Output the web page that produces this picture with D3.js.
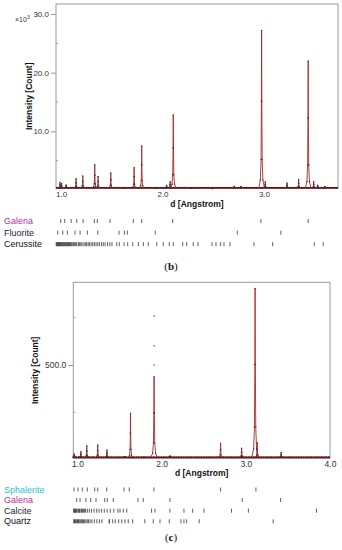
<!DOCTYPE html>
<html>
<head>
<meta charset="utf-8">
<script src="https://cdn.jsdelivr.net/npm/d3@7"></script>
<style>
  body { margin: 0; background: #fff; }
  svg { display: block; font-family: "Liberation Sans", Arial, sans-serif; }
</style>
</head>
<body>
<svg id="chart" width="342" height="550"></svg>
<script>
// ---- panel (b) data: peaks [d, intensity in 10^3 counts] ----
const peaksB = [
  [0.99, 1.3], [1.005, 1.1], [1.05, 0.85], [1.148, 1.9], [1.214, 2.4],
  [1.332, 4.3], [1.365, 2.3], [1.49, 2.9], [1.62, 0.3], [1.72, 3.8],
  [1.795, 7.5], [1.943, 0.3], [2.04, 0.8], [2.075, 1.4], [2.106, 12.8],
  [2.28, 0.3], [2.49, 0.2], [2.707, 0.6], [2.773, 0.6], [2.977, 27.2],
  [3.013, 1.4], [3.227, 1.2], [3.342, 1.8], [3.436, 22.0], [3.49, 1.4],
  [3.53, 0.8], [3.60, 0.6]
];
const baseB = 0.35;
const yTicksB = [10, 20, 30];
const yMinorB = [5, 15, 25];
const xTicksB = [1, 2, 3];

const phasesB = ["Galena", "Fluorite", "Cerussite"];
const galenaB = [0.997, 1.036, 1.099, 1.155, 1.217, 1.328, 1.357, 1.483, 1.712, 1.795, 2.10, 2.97, 3.436];
const fluoriteB = [0.967, 1.017, 1.062, 1.138, 1.187, 1.259, 1.362, 1.571, 1.624, 1.653, 1.929, 2.737, 3.167];
const cerussiteB = [
  0.952, 0.958, 0.963, 0.969, 0.975, 0.981, 0.986, 0.993, 0.999, 1.006, 1.012, 1.019,
  1.026, 1.031, 1.038, 1.046, 1.053, 1.061, 1.068, 1.074, 1.083, 1.091, 1.098, 1.107,
  1.118, 1.126, 1.135, 1.146, 1.154, 1.171, 1.183, 1.195, 1.207, 1.226, 1.238, 1.252,
  1.267, 1.279, 1.296, 1.312, 1.328, 1.345, 1.362, 1.378, 1.398, 1.416, 1.434, 1.458,
  1.481, 1.502, 1.549, 1.574, 1.621, 1.657, 1.706, 1.762, 1.811, 1.860, 1.943, 2.008,
  2.067, 2.106, 2.199, 2.238, 2.303, 2.350, 2.488, 2.527, 2.573, 2.606, 2.665, 2.901,
  3.086, 3.496, 3.584
];

// ---- panel (c) data: peaks [d, counts] ----
const peaksC = [
  [0.96, 30], [1.04, 42], [1.11, 73], [1.24, 77], [1.35, 51], [1.56, 15],
  [1.63, 245], [1.79, 10], [1.91, 438], [2.10, 20], [2.70, 86], [2.95, 60],
  [3.11, 905], [3.135, 90], [3.42, 38]
];
const outliersC = [[1.91, 759], [1.91, 602], [1.91, 500]];
const baseC = 12;
const yTicksC = [500];
const yMinorC = [250, 750];
const xTicksC = [1, 2, 3, 4];

const phasesC = ["Sphalerite", "Galena", "Calcite", "Quartz"];
const sphaleriteC = [0.958, 1.006, 1.057, 1.116, 1.204, 1.24, 1.347, 1.552, 1.615, 1.908, 2.70, 3.12];
const galenaC = [0.99, 1.03, 1.10, 1.157, 1.22, 1.323, 1.354, 1.425, 1.718, 1.781, 2.098, 2.957, 3.413];
const calciteC = [
  0.953, 0.962, 0.968, 0.975, 0.984, 0.99, 1.005, 1.014, 1.022, 1.031, 1.047, 1.058,
  1.069, 1.082, 1.096, 1.117, 1.14, 1.166, 1.196, 1.228, 1.256, 1.286, 1.318, 1.352,
  1.39, 1.432, 1.48, 1.505, 1.544, 1.585, 1.88, 1.92, 2.098, 2.265, 2.368, 2.502,
  2.83, 3.03, 3.84
];
const quartzC = [
  0.955, 0.962, 0.97, 0.978, 0.99, 1.0, 1.012, 1.02, 1.033, 1.046, 1.06, 1.072,
  1.085, 1.1, 1.116, 1.13, 1.15, 1.172, 1.2, 1.23, 1.26, 1.29, 1.375, 1.38, 1.418,
  1.449, 1.489, 1.525, 1.564, 1.603, 1.655, 1.80, 1.90, 1.98, 2.09, 2.229, 2.265,
  2.297, 2.446, 3.325
];

const phaseColor = {
  Galena: "#b8309c", Fluorite: "#1c1c40", Cerussite: "#111",
  Sphalerite: "#2cbfcc", Calcite: "#22223a", Quartz: "#111"
};

const svg = d3.select("#chart");
const gray = "#9a9a9a";

function drawPanel(cfg) {
  const { left, top, right, bottom } = cfg.box;
  const x = d3.scaleLinear().domain(cfg.xDomain).range([left, right]);
  const y = d3.scaleLinear().domain(cfg.yDomain).range([bottom, top]);
  const g = svg.append("g");

  // frame
  g.append("rect")
    .attr("x", left).attr("y", top)
    .attr("width", right - left).attr("height", bottom - top)
    .attr("fill", "none").attr("stroke", gray).attr("stroke-width", 1);

  // y axis
  const yAxis = g.append("g").attr("transform", `translate(${left},0)`)
    .call(d3.axisLeft(y).tickValues(cfg.yTicks).tickSize(5).tickPadding(2)
      .tickFormat(d3.format(".1f")));
  yAxis.select(".domain").remove();
  yAxis.selectAll("line").attr("stroke", gray);
  yAxis.selectAll("text").attr("fill", "#333").style("font-size", cfg.tickFont + "px")
    .style("font-family", "Liberation Sans, Arial, sans-serif");

  g.selectAll(".minor").data(cfg.yMinor).enter().append("line")
    .attr("x1", left).attr("x2", left + 2)
    .attr("y1", d => y(d)).attr("y2", d => y(d))
    .attr("stroke", gray);

  // x axis
  const xAxis = g.append("g").attr("transform", `translate(0,${bottom})`)
    .call(d3.axisBottom(x).tickValues(cfg.xTicks).tickSize(0).tickPadding(3)
      .tickFormat(d3.format(".1f")));
  xAxis.select(".domain").remove();
  xAxis.selectAll("text").attr("fill", "#333").style("font-size", cfg.tickFont + "px")
    .style("font-family", "Liberation Sans, Arial, sans-serif");

  // axis titles
  g.append("text")
    .attr("transform", `translate(${cfg.yTitleX},${(top + bottom) / 2}) rotate(-90)`)
    .attr("text-anchor", "middle").attr("font-weight", "bold")
    .attr("font-size", 8.5).attr("fill", "#111")
    .text("Intensity [Count]");
  g.append("text")
    .attr("x", (left + right) / 2).attr("y", bottom + 18)
    .attr("text-anchor", "middle").attr("font-weight", "bold")
    .attr("font-size", 8.5).attr("fill", "#111")
    .text("d [Angstrom]");

  // baseline (dense observed points + calc line)
  g.append("line")
    .attr("x1", x(cfg.xDomain[0])).attr("x2", x(cfg.xDomain[1]))
    .attr("y1", y(cfg.base)).attr("y2", y(cfg.base))
    .attr("stroke", "#7a1515").attr("stroke-width", 1.6);
  g.append("line")
    .attr("x1", x(cfg.xDomain[0])).attr("x2", x(cfg.xDomain[1]))
    .attr("y1", y(cfg.base) - 0.5).attr("y2", y(cfg.base) - 0.5)
    .attr("stroke", "#222").attr("stroke-width", 1).attr("stroke-dasharray", "1,1.5");

  // peak profile shape (offsets in units of width, fraction of height)
  const shape = [[-1, 0], [-0.45, 0.05], [-0.2, 0.18], [-0.07, 0.55], [0, 1],
                 [0.07, 0.55], [0.2, 0.18], [0.45, 0.05], [1, 0]];
  const line = d3.line().x(p => x(p[0])).y(p => y(p[1]));
  cfg.peaks.forEach(([d, h]) => {
    const w = cfg.width * (h > cfg.bigAt ? cfg.bigScale : 1);
    const pts = shape.map(([f, t]) => [d + f * w, cfg.base + t * (h - cfg.base)]);
    g.append("path").attr("d", line(pts))
      .attr("fill", "none").attr("stroke", "#a52a2a").attr("stroke-width", 0.9);
    g.selectAll(null).data(pts.slice(1, -1)).enter().append("circle")
      .attr("cx", p => x(p[0])).attr("cy", p => y(p[1]))
      .attr("r", 0.7).attr("fill", "#333");
  });
  (cfg.outliers || []).forEach(p => {
    g.append("circle").attr("cx", x(p[0])).attr("cy", y(p[1]))
      .attr("r", 0.8).attr("fill", "#555");
  });

  // phase reflection rows
  cfg.phases.forEach((name, i) => {
    const ry = cfg.rowTop + i * cfg.rowStep;
    g.append("text").attr("x", 4).attr("y", ry + 3)
      .attr("font-size", 9).attr("fill", phaseColor[name]).text(name);
    g.selectAll(null).data(cfg.rows[i]).enter().append("line")
      .attr("x1", d => x(d)).attr("x2", d => x(d))
      .attr("y1", ry - 2).attr("y2", ry + 2)
      .attr("stroke", "#333").attr("stroke-width", 0.8);
  });

  // panel caption
  const cap = g.append("text").attr("x", 171).attr("y", cfg.capY)
    .attr("text-anchor", "middle").attr("font-size", 11)
    .attr("font-family", "Liberation Serif, Times New Roman, serif").attr("fill", "#111");
  cap.append("tspan").text("(");
  cap.append("tspan").attr("font-weight", "bold").text(cfg.caption);
  cap.append("tspan").text(")");
  return g;
}

const gB = drawPanel({
  box: { left: 56, top: 4, right: 338, bottom: 188.5 },
  xDomain: [0.95, 3.73], yDomain: [0.25, 31.7],
  yTicks: yTicksB, yMinor: yMinorB, xTicks: xTicksB, tickFont: 8,
  yTitleX: 32, peaks: peaksB, base: baseB, width: 0.022, bigAt: 10, bigScale: 1.25,
  phases: phasesB, rows: [galenaB, fluoriteB, cerussiteB],
  rowTop: 221, rowStep: 11.6, capY: 270, caption: "b"
});

// x10^3 multiplier label
const mult = gB.append("text").attr("x", 15).attr("y", 22)
  .attr("font-size", 7).attr("fill", "#333");
mult.append("tspan").text("×10");
mult.append("tspan").attr("dy", -3).attr("font-size", 5).text("3");

drawPanel({
  box: { left: 73.3, top: 282.3, right: 330, bottom: 458.3 },
  xDomain: [0.95, 4.0], yDomain: [7, 937],
  yTicks: yTicksC, yMinor: yMinorC, xTicks: xTicksC, tickFont: 8.5,
  yTitleX: 38, peaks: peaksC, outliers: outliersC, base: baseC, width: 0.026, bigAt: 300, bigScale: 1.5,
  phases: phasesC, rows: [sphaleriteC, galenaC, calciteC, quartzC],
  rowTop: 489.5, rowStep: 10.6, capY: 541, caption: "c"
});
</script>
</body>
</html>
